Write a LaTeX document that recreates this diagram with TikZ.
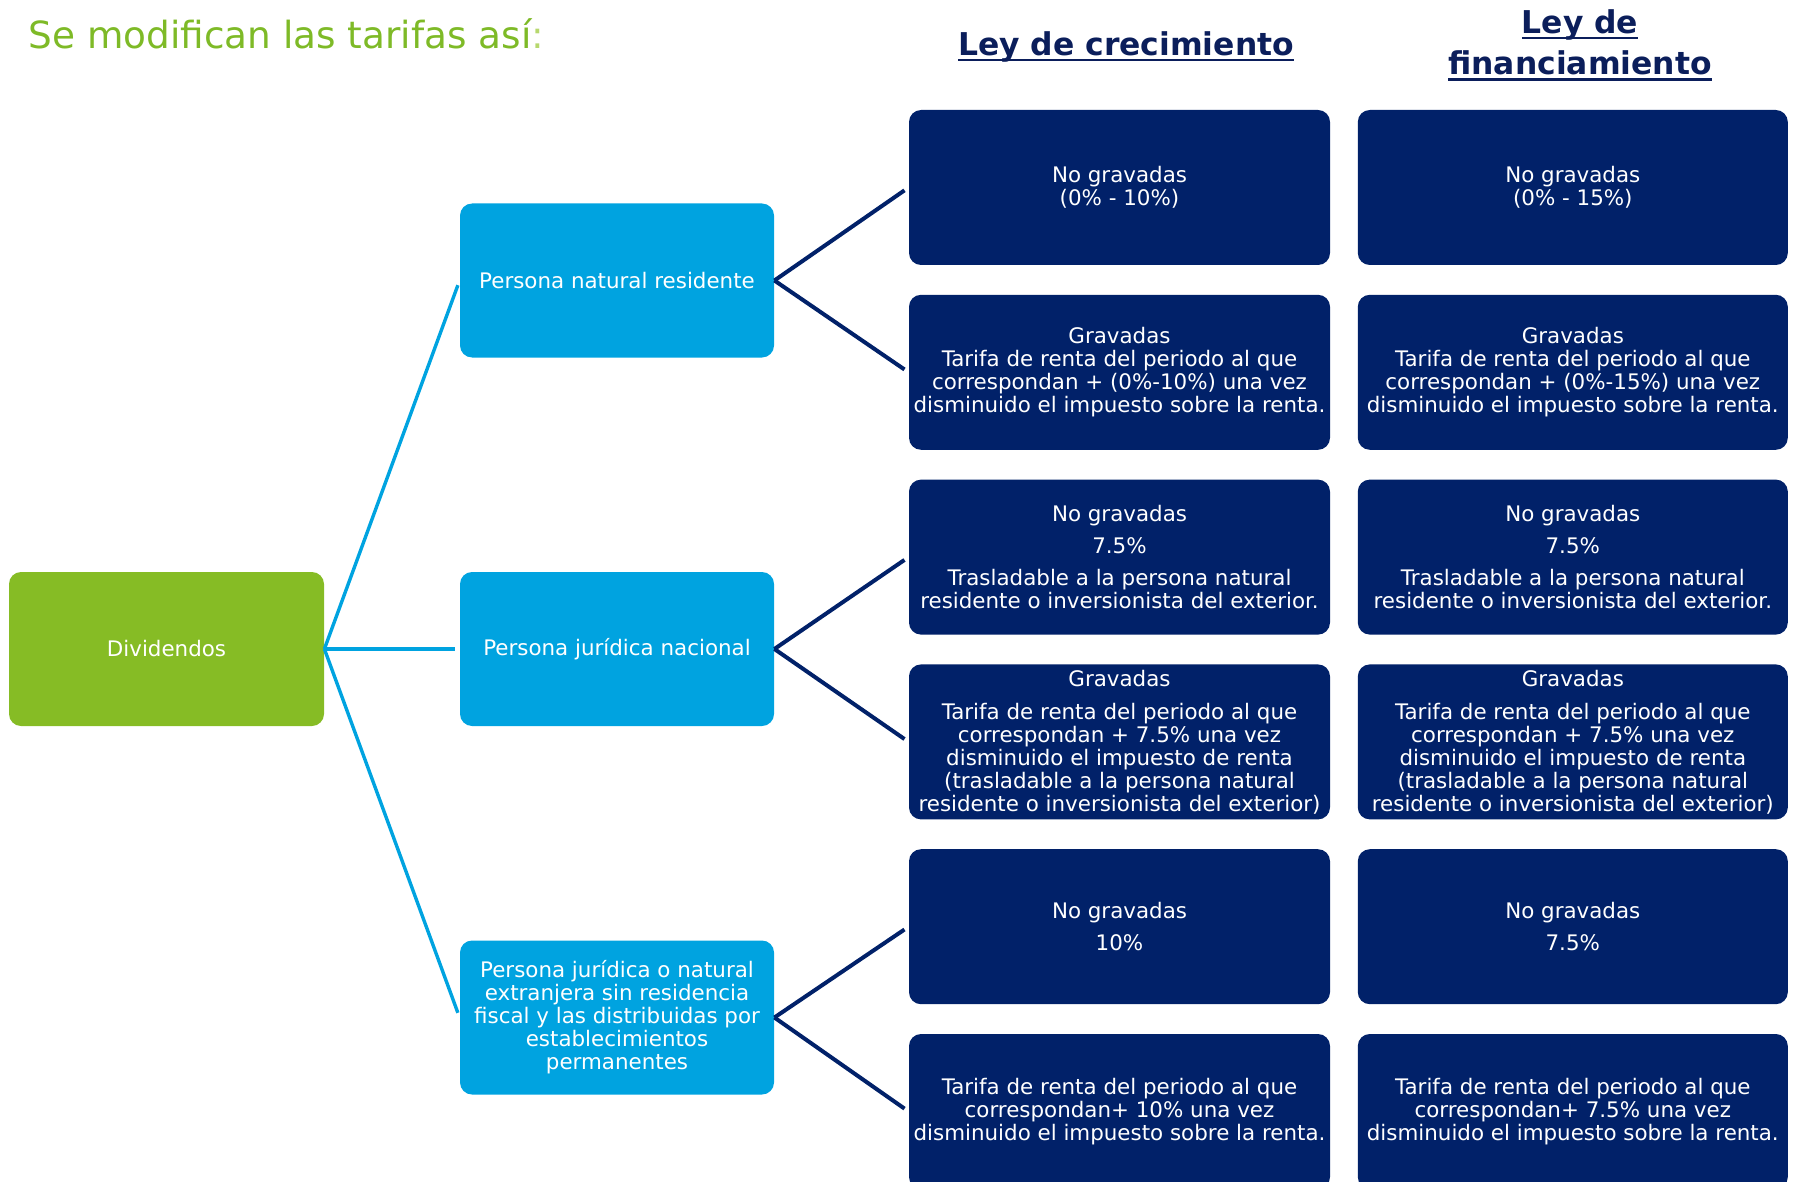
\documentclass[tikz,border=0pt]{standalone}
\usepackage{fontspec}
\setmainfont{DejaVu Sans}
\usepackage{xcolor}
\usepackage{tikz}
\usetikzlibrary{positioning}
\definecolor{tarifgreen}{HTML}{86BC25}
\definecolor{titlegreen}{HTML}{7EBA27}
\definecolor{colongreen}{HTML}{B7D86E}
\definecolor{personblue}{HTML}{00A3E0}
\definecolor{lawnavy}{HTML}{012169}
\definecolor{headnavy}{HTML}{0B1E5B}
\newcommand\headrule[1]{\setbox0\hbox{#1}\rlap{\rule[-2.9pt]{\wd0}{1.3pt}}\box0}

\begin{document}
\begin{tikzpicture}[
    x=0.5pt, y=-0.5pt,
    node distance=14.5pt and 13.5pt,
    every node/.style={font=\fontsize{10.7}{11.5}\selectfont},
    rootbox/.style={
        rectangle,
        rounded corners=6pt,
        fill=tarifgreen,
        text=white,
        minimum width=157.5pt,
        minimum height=77pt,
        align=center
    },
    personbox/.style={
        rectangle,
        rounded corners=6pt,
        fill=personblue,
        text=white,
        minimum width=157pt,
        minimum height=77pt,
        align=center
    },
    ratebox/.style={
        rectangle,
        rounded corners=6pt,
        fill=lawnavy,
        text=white,
        minimum width=210.5pt,
        minimum height=77.5pt,
        inner xsep=2pt,
        inner ysep=1pt,
        align=center
    },
    widebox/.style={
        ratebox,
        minimum width=215pt
    },
    headtext/.style={
        font=\fontsize{15.7}{20.75}\selectfont\bfseries,
        text=headnavy,
        anchor=base,
        align=center
    },
    bluelink/.style={
        draw=personblue,
        line width=1.7pt,
        shorten >=2.5pt
    },
    navylink/.style={
        draw=lawnavy,
        line width=2pt,
        shorten >=2.5pt
    }
]
\useasboundingbox (0,0) rectangle (1793,1182);

% titulos
\node[anchor=west, inner sep=0pt, font=\fontsize{18.7}{22}\selectfont, text=titlegreen] (titulo) at (28,34) {Se modifican las tarifas así\textcolor{colongreen}{:}};
\node[headtext] (leycrec) at (1126,55.5) {\headrule{Ley de crecimiento}};
\node[headtext] (leyfin) at (1580,75) {\headrule{Ley de}\\\headrule{financiamiento}};

% arbol
\node[rootbox] (div) at (166.5,649) {Dividendos};
\node[personbox] (pnr) at (617,280.5) {Persona natural residente};
\node[personbox] (pjn) at (617,649) {Persona jurídica nacional};
\node[personbox] (pext) at (617,1017.5) {Persona jurídica o natural\\extranjera sin residencia\\fiscal y las distribuidas por\\establecimientos\\permanentes};

% Ley de crecimiento
\node[ratebox] (crec1) at (1119.5,187.5) {No gravadas\\(0\% - 10\%)};
\node[ratebox, below=of crec1] (crec2) {Gravadas\\Tarifa de renta del periodo al que\\correspondan + (0\%-10\%) una vez\\disminuido el impuesto sobre la renta.};
\node[ratebox, below=of crec2] (crec3) {No gravadas\\[4.5pt]7.5\%\\[4.5pt]Trasladable a la persona natural\\residente o inversionista del exterior.};
\node[ratebox, below=of crec3] (crec4) {Gravadas\\[5pt]Tarifa de renta del periodo al que\\correspondan + 7.5\% una vez\\disminuido el impuesto de renta\\(trasladable a la persona natural\\residente o inversionista del exterior)};
\node[ratebox, below=of crec4] (crec5) {No gravadas\\[4.5pt]10\%};
\node[ratebox, below=of crec5] (crec6) {Tarifa de renta del periodo al que\\correspondan+ 10\% una vez\\disminuido el impuesto sobre la renta.};

% Ley de financiamiento
\node[widebox, right=of crec1] (fin1) {No gravadas\\(0\% - 15\%)};
\node[widebox, right=of crec2] (fin2) {Gravadas\\Tarifa de renta del periodo al que\\correspondan + (0\%-15\%) una vez\\disminuido el impuesto sobre la renta.};
\node[widebox, right=of crec3] (fin3) {No gravadas\\[4.5pt]7.5\%\\[4.5pt]Trasladable a la persona natural\\residente o inversionista del exterior.};
\node[widebox, right=of crec4] (fin4) {Gravadas\\[5pt]Tarifa de renta del periodo al que\\correspondan + 7.5\% una vez\\disminuido el impuesto de renta\\(trasladable a la persona natural\\residente o inversionista del exterior)};
\node[widebox, right=of crec5] (fin5) {No gravadas\\[4.5pt]7.5\%};
\node[widebox, right=of crec6] (fin6) {Tarifa de renta del periodo al que\\correspondan+ 7.5\% una vez\\disminuido el impuesto sobre la renta.};

% conectores
\draw[bluelink] (div.east) -- (pnr.west);
\draw[bluelink] (div.east) -- (pjn.west);
\draw[bluelink] (div.east) -- (pext.west);

\draw[navylink] (pnr.east) -- (crec1.west);
\draw[navylink] (pnr.east) -- (crec2.west);
\draw[navylink] (pjn.east) -- (crec3.west);
\draw[navylink] (pjn.east) -- (crec4.west);
\draw[navylink] (pext.east) -- (crec5.west);
\draw[navylink] (pext.east) -- (crec6.west);

\end{tikzpicture}
\end{document}
